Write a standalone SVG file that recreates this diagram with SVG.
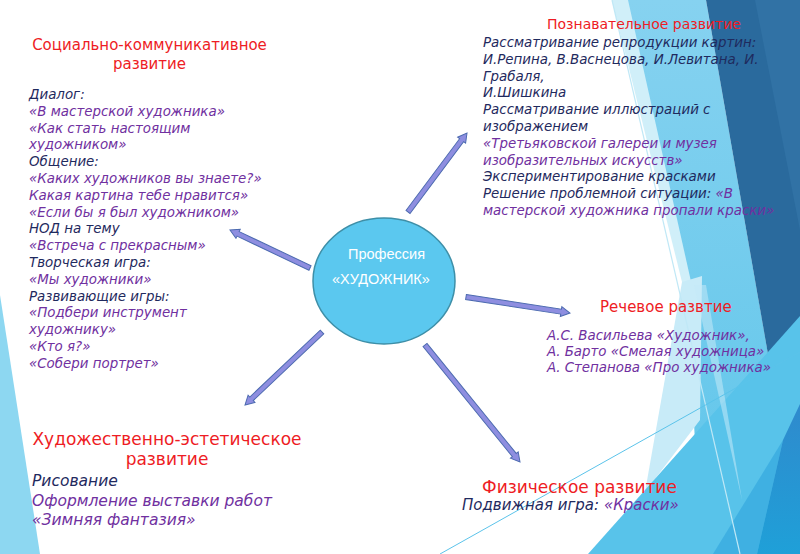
<svg xmlns="http://www.w3.org/2000/svg" width="800" height="554" viewBox="0 0 800 554">
<defs>
<style>
.hd{font-family:"DejaVu Sans",Verdana,sans-serif;fill:#ee1c24}
.bd{font-family:"DejaVu Sans",Verdana,sans-serif;font-style:italic;font-size:13.4px}
.nv{fill:#1f2a5e}
.pu{fill:#7030a0}
.arr{fill:#8e8ee0;stroke:#4d6bb0;stroke-width:1}
.ct{font-family:"Liberation Sans",Arial,sans-serif;font-size:14.5px;fill:#ffffff}
</style>
<linearGradient id="gBand" x1="0" y1="0" x2="0" y2="1">
<stop offset="0" stop-color="#86d2f0"/>
<stop offset="1" stop-color="#5ec5ea"/>
</linearGradient>
<linearGradient id="gMed" x1="0" y1="0" x2="0" y2="1">
<stop offset="0" stop-color="#2f8acd"/>
<stop offset="1" stop-color="#1fa0d8"/>
</linearGradient>
</defs>
<rect width="800" height="554" fill="#ffffff"/>
<g id="background">
<polygon points="612,0 706,0 784,445 760,554 700,554 688,290" fill="url(#gBand)"/>
<polygon points="612,0 628,0 692,286 683,286" fill="#d0eff9"/>
<polygon points="706,0 800,0 800,404 783,440" fill="#2a6a9d"/>
<polygon points="755,0 800,0 800,230" fill="#3172a5"/>
<polygon points="682,282 702,276 700,420 645,492" fill="#c8ebf8"/>
<polygon points="588,554 800,316 800,554" fill="#58c3ea"/>
<polygon points="694,285 706,285 742,500" fill="#c4e9f7" opacity="0.55"/>
<polygon points="713,554 783,440 757,554" fill="#3fb0e2"/>
<polygon points="783,440 800,404 800,554 757,554" fill="url(#gMed)"/>
<line x1="612" y1="0" x2="740" y2="554" stroke="#c0e8f6" stroke-width="1.2"/>
<line x1="440" y1="554" x2="800" y2="352" stroke="#5bc3ea" stroke-width="1"/>
<polygon points="0,295 40,554 0,554" fill="#8dd7f1"/>
</g>
<g id="connectors">
<path class="arr" transform="translate(310,268) rotate(205.4)" d="M0,-2.5 H79.6 V-5 L88.6,0 L79.6,5 V2.5 H0 Z"/>
<path class="arr" transform="translate(408,212) rotate(-53.25)" d="M0,-2.5 H89.6 V-5 L98.6,0 L89.6,5 V2.5 H0 Z"/>
<path class="arr" transform="translate(466,297) rotate(8.75)" d="M0,-2.5 H96.2 V-5 L105.2,0 L96.2,5 V2.5 H0 Z"/>
<path class="arr" transform="translate(322,332) rotate(136.53)" d="M0,-2.5 H97.1 V-5 L106.1,0 L97.1,5 V2.5 H0 Z"/>
<path class="arr" transform="translate(425,345) rotate(50.93)" d="M0,-2.5 H141.7 V-5 L150.7,0 L141.7,5 V2.5 H0 Z"/>
</g>
<g id="center">
<ellipse cx="384" cy="281" rx="71" ry="63" fill="#5bc8ef" stroke="#3d8fa8" stroke-width="1.5"/>
<text class="ct" x="348" y="259">Профессия</text>
<text class="ct" x="332" y="284">«ХУДОЖНИК»</text>
</g>
<g id="social">
<text class="hd" font-size="15" text-anchor="middle" x="149.5" y="50">Социально-коммуникативное</text>
<text class="hd" font-size="15" text-anchor="middle" x="149.5" y="69">развитие</text>
<text class="bd" x="29" y="99"><tspan class="nv">Диалог:</tspan><tspan class="pu" x="29" dy="16.8">«В мастерской художника»</tspan><tspan class="pu" x="29" dy="16.8">«Как стать настоящим</tspan><tspan class="pu" x="29" dy="16.8">художником»</tspan><tspan class="nv" x="29" dy="16.8">Общение:</tspan><tspan class="pu" x="29" dy="16.8">«Каких художников вы знаете?»</tspan><tspan class="pu" x="29" dy="16.8">Какая картина тебе нравится»</tspan><tspan class="pu" x="29" dy="16.8">«Если бы я был художником»</tspan><tspan class="nv" x="29" dy="16.8">НОД на тему</tspan><tspan class="pu" x="29" dy="16.8">«Встреча с прекрасным»</tspan><tspan class="nv" x="29" dy="16.8">Творческая игра:</tspan><tspan class="pu" x="29" dy="16.8">«Мы художники»</tspan><tspan class="nv" x="29" dy="16.8">Развивающие игры:</tspan><tspan class="pu" x="29" dy="16.8">«Подбери инструмент</tspan><tspan class="pu" x="29" dy="16.8">художнику»</tspan><tspan class="pu" x="29" dy="16.8">«Кто я?»</tspan><tspan class="pu" x="29" dy="16.8">«Собери портрет»</tspan></text>
</g>
<g id="cognitive">
<text class="hd" font-size="14" x="547" y="29">Познавательное развитие</text>
<text class="bd" x="483" y="47"><tspan class="nv">Рассматривание репродукции картин:</tspan><tspan class="nv" x="483" dy="16.8">И.Репина, В.Васнецова, И.Левитана, И.</tspan><tspan class="nv" x="483" dy="16.8">Грабаля,</tspan><tspan class="nv" x="483" dy="16.8">И.Шишкина</tspan><tspan class="nv" x="483" dy="16.8">Рассматривание иллюстраций с</tspan><tspan class="nv" x="483" dy="16.8">изображением</tspan><tspan class="pu" x="483" dy="16.8">«Третьяковской галереи и музея</tspan><tspan class="pu" x="483" dy="16.8">изобразительных искусств»</tspan><tspan class="nv" x="483" dy="16.8">Экспериментирование красками</tspan><tspan class="nv" x="483" dy="16.8">Решение проблемной ситуации: </tspan><tspan class="pu">«В</tspan><tspan class="pu" x="483" dy="16.8">мастерской художника пропали краски»</tspan></text>
</g>
<g id="speech">
<text class="hd" font-size="15" x="600" y="312">Речевое развтие</text>
<text class="bd pu" x="547" y="340"><tspan>А.С. Васильева «Художник»,</tspan><tspan x="547" dy="16">А. Барто «Смелая художница»</tspan><tspan x="547" dy="16">А. Степанова «Про художника»</tspan></text>
</g>
<g id="art">
<text class="hd" font-size="17" text-anchor="middle" x="167" y="445">Художественно-эстетическое</text>
<text class="hd" font-size="17" text-anchor="middle" x="167" y="465">развитие</text>
<text class="bd" x="32" y="486" style="font-size:15.5px"><tspan class="nv">Рисование</tspan><tspan class="pu" x="32" dy="20">Оформление выставки работ</tspan><tspan class="pu" x="32" dy="19">«Зимняя фантазия»</tspan></text>
</g>
<g id="physical">
<text class="hd" font-size="17" x="482" y="493">Физическое развитие</text>
<text class="bd" x="462" y="510" style="font-size:15px"><tspan class="nv">Подвижная игра: </tspan><tspan class="pu">«Краски»</tspan></text>
</g>
</svg>
